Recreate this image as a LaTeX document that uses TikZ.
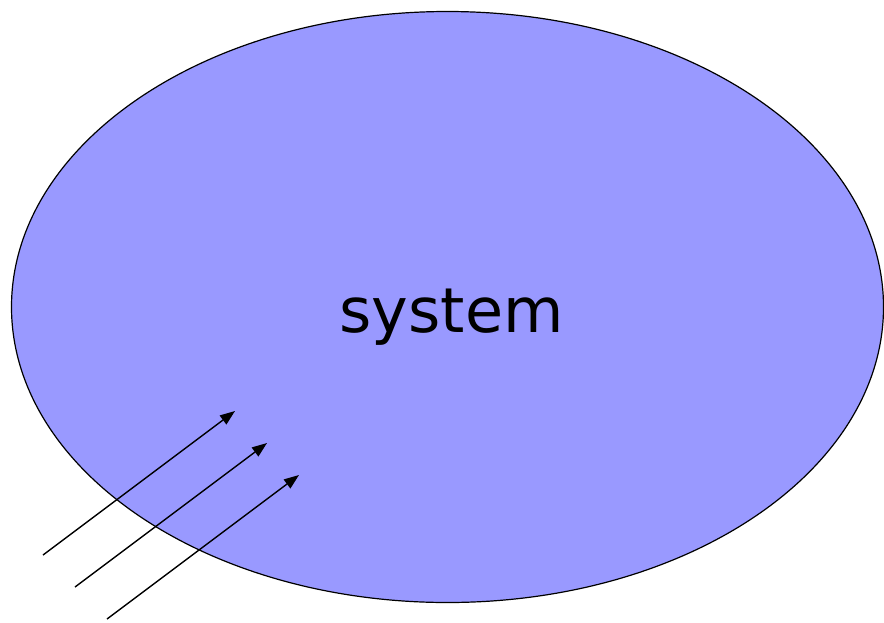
\documentclass[tikz,border=0pt]{standalone}
\usepackage{fontspec}
\setmainfont{DejaVu Sans}
\usetikzlibrary{shapes.geometric,arrows.meta}
\definecolor{sysfill}{HTML}{9999FF}
\tikzset{
  inarrow/.style={line width=1.4pt,-{Triangle[length=15pt,width=11pt]}},
}
\begin{document}
\begin{tikzpicture}[x=1pt,y=-1pt]
\useasboundingbox (0,0) rectangle (884,622);
\node[ellipse,draw=black,line width=1.2pt,fill=sysfill,minimum width=872pt,minimum height=591pt,inner sep=0pt] (sys) at (447.5,307) {};
\node[anchor=base,inner sep=0pt,font=\fontsize{62}{70}\selectfont] (lbl) at (451.5,332) {system};
\coordinate (s1) at (43,555);
\coordinate (e1) at (235,411);
\coordinate (s2) at (75,587);
\coordinate (e2) at (267,443);
\coordinate (s3) at (107,619);
\coordinate (e3) at (299,475);
\draw[inarrow] (s1) -- (e1);
\draw[inarrow] (s2) -- (e2);
\draw[inarrow] (s3) -- (e3);
\end{tikzpicture}
\end{document}
